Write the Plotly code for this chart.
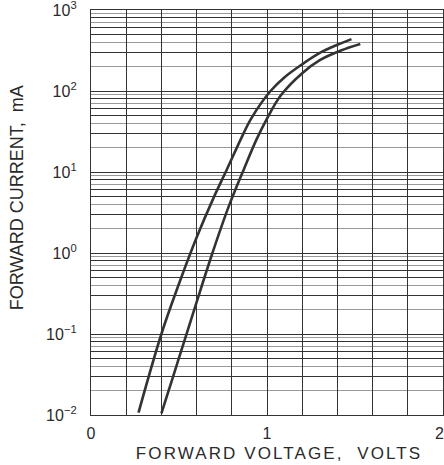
import plotly.graph_objects as go

# Curve A (left) — forward voltage (V) vs forward current (mA)
volts_a = [0.27, 0.40, 0.50, 0.60, 0.70, 0.77, 0.85, 0.91, 1.02, 1.10, 1.20, 1.30, 1.40, 1.48]
current_a = [0.0107, 0.100, 0.417, 1.55, 5.0, 10.5, 25.1, 45.7, 100.0, 148.0, 214.0, 295.0, 372.0, 437.0]

# Curve B (right)
volts_b = [0.40, 0.47, 0.54, 0.62, 0.69, 0.78, 0.87, 0.94, 1.00, 1.08, 1.20, 1.30, 1.42, 1.53]
current_b = [0.0105, 0.0316, 0.0955, 0.339, 1.0, 3.63, 11.0, 25.1, 45.7, 89.1, 166.0, 240.0, 316.0, 380.0]

x_ticks = [0, 0.2, 0.4, 0.6, 0.8, 1.0, 1.2, 1.4, 1.6, 1.8, 2.0]
x_labels = ["0", "", "", "", "", "1", "", "", "", "", "2"]
decades = [-2, -1, 0, 1, 2, 3]
dark_mult = [1, 3, 5, 6, 8]
grey_mult = [2, 4, 7, 9]

y_major = []
y_major_text = []
for d in decades:
    for k in dark_mult:
        if d == 3 and k > 1:
            continue
        y_major.append(k * 10.0 ** d)
        if k == 1:
            exp = str(d).replace("-", "\u2212")
            y_major_text.append("10<sup>" + exp + "</sup>")
        else:
            y_major_text.append("")
y_minor = [k * 10.0 ** d for d in decades[:-1] for k in grey_mult]

line_col = "#333333"
font = dict(family="Liberation Sans, Arial, sans-serif", size=16, color="#2a2a2a")

fig = go.Figure()
fig.add_trace(go.Scatter(x=volts_a, y=current_a, mode="lines",
                         line=dict(color=line_col, width=2.6, shape="spline", smoothing=1.0),
                         showlegend=False, hoverinfo="skip"))
fig.add_trace(go.Scatter(x=volts_b, y=current_b, mode="lines",
                         line=dict(color=line_col, width=2.6, shape="spline", smoothing=1.0),
                         showlegend=False, hoverinfo="skip"))

fig.update_layout(
    width=444, height=465,
    margin=dict(l=91, r=1, t=10, b=50),
    paper_bgcolor="white", plot_bgcolor="white",
    font=font,
    xaxis=dict(range=[0, 2], tickmode="array", tickvals=x_ticks, ticktext=x_labels,
               showgrid=True, gridcolor=line_col, gridwidth=1.3,
               showline=True, linecolor=line_col, linewidth=1.3, mirror=True,
               ticks="", ticklabelstandoff=4, zeroline=False, tickfont=font,
               automargin=False, ticklabeloverflow="allow"),
    yaxis=dict(type="log", range=[-2, 3], tickmode="array", tickvals=y_major, ticktext=y_major_text,
               showgrid=True, gridcolor=line_col, gridwidth=1.2,
               minor=dict(tickmode="array", tickvals=y_minor, showgrid=True,
                          gridcolor="#9a9a9a", gridwidth=1.2, ticks=""),
               showline=True, linecolor=line_col, linewidth=1.3, mirror=True,
               ticks="", ticklabelstandoff=10, zeroline=False, tickfont=font,
               automargin=False, ticklabeloverflow="allow"),
)

fig.add_annotation(text="FORWARD VOLTAGE,&nbsp; VOLTS", xref="paper", yref="paper",
                   x=0.535, y=0, yshift=-38, showarrow=False,
                   font=dict(family="Liberation Sans, Arial, sans-serif", size=17, color="#2a2a2a"),
                   xanchor="center", yanchor="middle")
fig.add_annotation(text="FORWARD CURRENT,&nbsp; mA", xref="paper", yref="paper",
                   x=0, xshift=-74, y=0.535, showarrow=False, textangle=-90,
                   font=dict(family="Liberation Sans, Arial, sans-serif", size=18, color="#2a2a2a"),
                   xanchor="center", yanchor="middle")

post = (
    "document.body.style.margin='0';document.body.style.overflow='hidden';"
    "document.querySelectorAll('text.annotation-text').forEach(function(t){"
    "if(t.textContent.indexOf('VOLTS')>=0){t.style.letterSpacing='2.1px';}});"
    "document.querySelectorAll('g.xtick text').forEach(function(t){"
    "if(t.textContent==='2'){t.setAttribute('text-anchor','end');"
    "t.setAttribute('x', String(parseFloat(t.getAttribute('x')||'0')+1));}});"
)
fig.write_html("out.html", post_script=post, config={"displayModeBar": False})
